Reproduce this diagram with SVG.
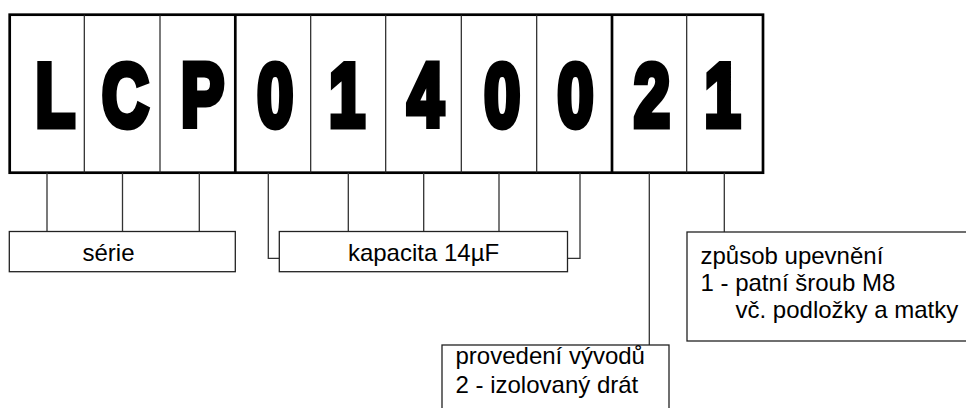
<svg xmlns="http://www.w3.org/2000/svg" width="966" height="408" viewBox="0 0 966 408">
<style>
.frame{fill:#fff;stroke:#000;stroke-width:2.7}
.dv{stroke:#222;stroke-width:1.2}
.dvb{stroke:#000;stroke-width:2.7}
.big{font-family:"Liberation Sans",Arial,sans-serif;font-weight:bold;font-size:89.8px;fill:#000;stroke:#000;stroke-width:7;stroke-linejoin:miter;text-anchor:middle}
.box{fill:#fff;stroke:#222;stroke-width:1.3}
.con{fill:none;stroke:#333;stroke-width:1.3}
.lbl{font-family:"Liberation Sans",Arial,sans-serif;font-size:24px;fill:#000}
</style>
<rect width="966" height="408" fill="#fff"/>
<g id="code-frame">
<rect class="frame" x="9.7" y="14.7" width="753.3" height="158"/>
<line class="dv" x1="84.3" y1="14.7" x2="84.3" y2="172.7"/>
<line class="dv" x1="160" y1="14.7" x2="160" y2="172.7"/>
<line class="dvb" x1="235.3" y1="14.7" x2="235.3" y2="172.7"/>
<line class="dv" x1="310.7" y1="14.7" x2="310.7" y2="172.7"/>
<line class="dv" x1="385.7" y1="14.7" x2="385.7" y2="172.7"/>
<line class="dv" x1="461.3" y1="14.7" x2="461.3" y2="172.7"/>
<line class="dv" x1="536.7" y1="14.7" x2="536.7" y2="172.7"/>
<line class="dvb" x1="612" y1="14.7" x2="612" y2="172.7"/>
<line class="dv" x1="686.7" y1="14.7" x2="686.7" y2="172.7"/>
</g>
<g id="c1" transform="translate(55.3,125.8) scale(0.72,1)"><text class="big">L</text></g>
<g id="c2" transform="translate(125.3,125.8) scale(0.72,1)"><text class="big">C</text></g>
<g id="c3" transform="translate(202.5,125.8) scale(0.72,1)"><text class="big">P</text></g>
<g id="c4" transform="translate(275.3,125.8) scale(0.72,1)"><text class="big">0</text></g>
<g id="c5" transform="translate(347,125.8) scale(0.72,1)"><text class="big">1</text></g>
<g id="c6" transform="translate(425.5,125.8) scale(0.72,1)"><text class="big">4</text></g>
<g id="c7" transform="translate(502.3,125.8) scale(0.72,1)"><text class="big">0</text></g>
<g id="c8" transform="translate(575.5,125.8) scale(0.72,1)"><text class="big">0</text></g>
<g id="c9" transform="translate(652,125.8) scale(0.72,1)"><text class="big">2</text></g>
<g id="c10" transform="translate(722.5,125.8) scale(0.72,1)"><text class="big">1</text></g>
<g id="connectors">
<path class="con" d="M47 172.7V231.5M122.5 172.7V231.5M199.3 172.7V231.5"/>
<path class="con" d="M268.3 172.7V258.3H279.3M348.3 172.7V231.5M423.7 172.7V231.5M499 172.7V231.5M580 172.7V258.3H567.5"/>
<path class="con" d="M649.3 172.7V345"/>
<path class="con" d="M724.3 172.7V232"/>
</g>
<g id="serie">
<rect class="box" x="9.3" y="231.5" width="226" height="40.2"/>
<text class="lbl" x="82.5" y="261">série</text>
</g>
<g id="kapacita">
<rect class="box" x="279.3" y="231.5" width="288.2" height="40.2"/>
<text class="lbl" x="423.5" y="261" text-anchor="middle">kapacita 14µF</text>
</g>
<g id="provedeni">
<rect class="box" x="442" y="345" width="227" height="80"/>
<text class="lbl" x="455.5" y="364.3">provedení vývodů</text>
<text class="lbl" x="455.5" y="392.7">2 - izolovaný drát</text>
</g>
<g id="upevneni">
<rect class="box" x="687" y="232" width="290" height="109"/>
<text class="lbl" x="700.5" y="264.3">způsob upevnění</text>
<text class="lbl" x="700.5" y="291">1 - patní šroub M8</text>
<text class="lbl" x="735.5" y="318">vč. podložky a matky</text>
</g>
</svg>
